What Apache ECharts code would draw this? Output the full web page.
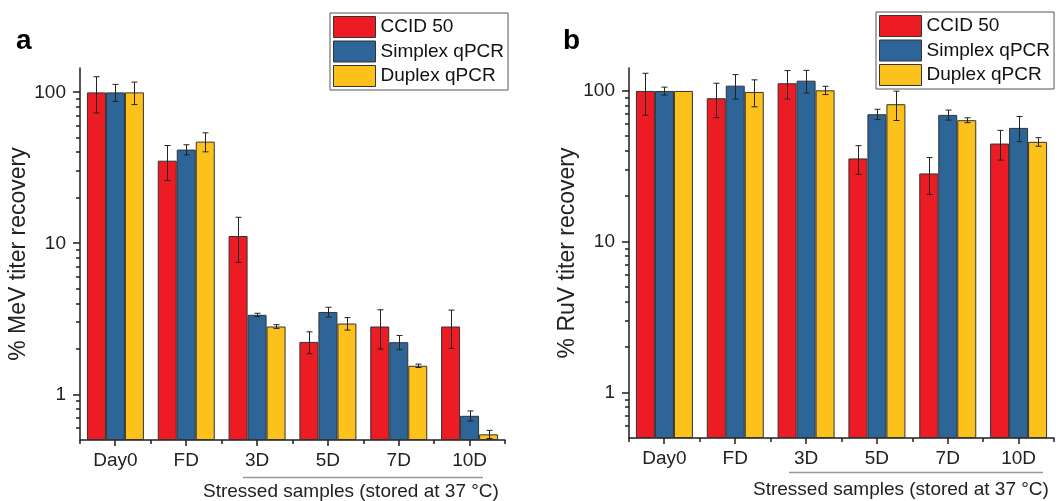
<!DOCTYPE html>
<html>
<head>
<meta charset="utf-8">
<title>MeV / RuV titer recovery</title>
<script src="https://cdn.jsdelivr.net/npm/echarts@6/dist/echarts.min.js"></script>
<style>
  html, body { margin: 0; padding: 0; background: #fff; }
  #main { width: 1059px; height: 501px; }
</style>
</head>
<body>
<div id="main"></div>
<script>
// categories on the x axis
var categories = ['Day0', 'FD', '3D', '5D', '7D', '10D'];
var seriesNames = ['CCID 50', 'Simplex qPCR', 'Duplex qPCR'];

// panel a - MeV (mean and SD, % recovery)
var mevCcid = [100, 35.3, 11.2, 2.23, 2.82, 2.82];
var mevCcidSd = [27, 9.2, 3.7, 0.37, 0.82, 0.8];
var mevSimplex = [100, 41.8, 3.37, 3.52, 2.22, 0.723];
var mevSimplexSd = [13, 3.2, 0.08, 0.26, 0.24, 0.055];
var mevDuplex = [100, 47.2, 2.82, 2.95, 1.55, 0.545];
var mevDuplexSd = [17, 6.8, 0.08, 0.28, 0.04, 0.034];

// panel b - RuV
var ruvCcid = [100, 89.5, 112.5, 35.7, 28.4, 44.8];
var ruvCcidSd = [31, 23, 24, 7.7, 7.8, 10];
var ruvSimplex = [100, 108.4, 117, 70.1, 69.4, 56.9];
var ruvSimplexSd = [6, 20, 20, 5.5, 5.3, 10.8];
var ruvDuplex = [100, 98.5, 101, 81.7, 64, 46];
var ruvDuplexSd = [0, 20, 6.4, 18, 2.4, 3];

// log axis ticks
var majorTicks = [1, 10, 100];
var minorTicks = [0.6, 0.7, 0.8, 0.9, 2, 3, 4, 5, 6, 7, 8, 9, 20, 30, 40, 50, 60, 70, 80, 90];

var colors = ['#ED1C24', '#2E6598', '#FCC11A'];
var FONT = 'Liberation Sans';
var AXIS_COLOR = '#1e1e1e';
var BAR_W = 19;

var myChart = echarts.init(document.getElementById('main'));

// 误差线 (error bars) as custom series
function errorSeries(name, means, sds, k, xIdx, yIdx) {
    var data = [];
    for (var i = 0; i < means.length; i++) {
        data.push([i, means[i] - sds[i], means[i] + sds[i], sds[i]]);
    }
    return {
        type: 'custom',
        name: name,
        xAxisIndex: xIdx,
        yAxisIndex: yIdx,
        z: 5,
        silent: true,
        data: data,
        renderItem: function (params, api) {
            if (api.value(3) <= 0) { return; }
            var top = api.coord([api.value(0), api.value(2)]);
            var bot = api.coord([api.value(0), api.value(1)]);
            var cx = Math.round(top[0] + (k - 1) * BAR_W) + 0.5;
            var cap = 3;
            var st = { stroke: '#222', lineWidth: 1 };
            return {
                type: 'group',
                children: [
                    { type: 'line', shape: { x1: cx, y1: top[1], x2: cx, y2: bot[1] }, style: st },
                    { type: 'line', shape: { x1: cx - cap, y1: top[1], x2: cx + cap, y2: top[1] }, style: st },
                    { type: 'line', shape: { x1: cx - cap, y1: bot[1], x2: cx + cap, y2: bot[1] }, style: st }
                ]
            };
        }
    };
}

function barSeries(name, values, k, xIdx, yIdx) {
    return {
        type: 'bar',
        name: name,
        xAxisIndex: xIdx,
        yAxisIndex: yIdx,
        data: values,
        barWidth: BAR_W,
        barGap: '0%',
        itemStyle: { color: colors[k], borderColor: '#333', borderWidth: 1 }
    };
}

function xAxes(gridIndex) {
    return [{
        type: 'category',
        gridIndex: gridIndex,
        position: 'bottom',
        data: categories,
        axisLine: { show: true, lineStyle: { color: AXIS_COLOR, width: 1.5 } },
        axisTick: { show: false },
        axisLabel: { show: true, color: '#222', fontSize: 19, fontFamily: FONT, margin: 11, interval: 0 },
        splitLine: { show: false }
    }, {
        type: 'category',
        gridIndex: gridIndex,
        position: 'bottom',
        data: categories,
        axisLine: { show: false },
        axisTick: { show: true, length: 4, lineStyle: { color: AXIS_COLOR, width: 1.5 } },
        axisLabel: { show: false },
        splitLine: { show: false }
    }];
}

function yAxis(gridIndex, maxVal, title) {
    return {
        type: 'log',
        gridIndex: gridIndex,
        position: 'left',
        min: 0.5,
        max: maxVal,
        startValue: 0.5,
        name: title,
        nameLocation: 'middle',
        nameGap: 44,
        nameTextStyle: { color: '#222', fontSize: 23, fontFamily: FONT },
        axisLine: { show: true, lineStyle: { color: AXIS_COLOR, width: 1.5 } },
        axisTick: { show: false },
        axisLabel: { color: '#222', fontSize: 19, fontFamily: FONT, margin: 14, customValues: majorTicks },
        splitLine: { show: false }
    };
}

function legendAt(left, top) {
    return {
        orient: 'vertical',
        left: left,
        top: top,
        data: seriesNames,
        itemWidth: 42,
        itemHeight: 21,
        itemGap: 2.5,
        padding: [3, 4, 3, 3],
        borderColor: '#555',
        borderWidth: 1,
        selectedMode: false,
        icon: 'rect',
        itemStyle: { borderColor: '#333', borderWidth: 1 },
        textStyle: { color: '#111', fontSize: 19, fontFamily: FONT }
    };
}

var option = {
    backgroundColor: '#fff',
    animation: false,
    color: colors,
    grid: [
        { left: 80, top: 68, width: 425, height: 372, outerBoundsMode: 'none' },
        { left: 629, top: 68, width: 425, height: 370, outerBoundsMode: 'none' }
    ],
    legend: [legendAt(330, 13), legendAt(876, 12)],
    xAxis: xAxes(0).concat(xAxes(1)),
    yAxis: [yAxis(0, 145, '% MeV titer recovery'), yAxis(1, 142, '% RuV titer recovery')],
    series: [
        barSeries(seriesNames[0], mevCcid, 0, 0, 0),
        barSeries(seriesNames[1], mevSimplex, 1, 0, 0),
        barSeries(seriesNames[2], mevDuplex, 2, 0, 0),
        errorSeries('errA0', mevCcid, mevCcidSd, 0, 0, 0),
        errorSeries('errA1', mevSimplex, mevSimplexSd, 1, 0, 0),
        errorSeries('errA2', mevDuplex, mevDuplexSd, 2, 0, 0),
        barSeries(seriesNames[0], ruvCcid, 0, 2, 1),
        barSeries(seriesNames[1], ruvSimplex, 1, 2, 1),
        barSeries(seriesNames[2], ruvDuplex, 2, 2, 1),
        errorSeries('errB0', ruvCcid, ruvCcidSd, 0, 2, 1),
        errorSeries('errB1', ruvSimplex, ruvSimplexSd, 1, 2, 1),
        errorSeries('errB2', ruvDuplex, ruvDuplexSd, 2, 2, 1)
    ]
};

myChart.setOption(option);

// panel letters, bracket lines and the tick marks (placed through the grids' scales)
var graphics = [
    { type: 'text', left: 16, top: 27, style: { text: 'a', fontSize: 28, fontWeight: 'bold', fontFamily: FONT, fill: '#000' } },
    { type: 'text', left: 563, top: 27, style: { text: 'b', fontSize: 28, fontWeight: 'bold', fontFamily: FONT, fill: '#000' } },
    { type: 'line', shape: { x1: 243, y1: 477.5, x2: 483, y2: 477.5 }, style: { stroke: '#999', lineWidth: 1.5 } },
    { type: 'line', shape: { x1: 789, y1: 472.5, x2: 1043, y2: 472.5 }, style: { stroke: '#999', lineWidth: 1.5 } },
    { type: 'text', x: 203, y: 492, style: { text: 'Stressed samples (stored at 37 \u00B0C)', fontSize: 19, fontFamily: FONT, fill: '#222', verticalAlign: 'middle' } },
    { type: 'text', x: 753, y: 490, style: { text: 'Stressed samples (stored at 37 \u00B0C)', fontSize: 19, fontFamily: FONT, fill: '#222', verticalAlign: 'middle' } }
];
var problems = [];

function addTicks(gridIdx) {
    // axis corner: first category boundary at the bottom value of the axis
    var base = myChart.convertToPixel({ gridIndex: gridIdx }, [0, 0.5]);
    var bandLeft = myChart.convertToPixel({ gridIndex: gridIdx }, [0, 1]);
    var bandNext = myChart.convertToPixel({ gridIndex: gridIdx }, [1, 1]);
    if (!base || !bandLeft || !bandNext) { problems.push('grid' + gridIdx + ' null'); return; }
    var axisX = Math.round(bandLeft[0] - (bandNext[0] - bandLeft[0]) / 2);
    var axisY = Math.round(base[1]);
    var st = { stroke: AXIS_COLOR, lineWidth: 1.5 };
    function yTick(v, len) {
        var p = myChart.convertToPixel({ gridIndex: gridIdx }, [0, v]);
        if (!p || !isFinite(p[1])) { problems.push('y' + v); return; }
        var y = Math.round(p[1]);
        graphics.push({ type: 'line', shape: { x1: axisX - len, y1: y, x2: axisX, y2: y }, style: st });
    }
    majorTicks.forEach(function (v) { yTick(v, 7); });
    minorTicks.forEach(function (v) { yTick(v, 4); });
    categories.forEach(function (c, i) {
        var p = myChart.convertToPixel({ gridIndex: gridIdx }, [i, 1]);
        if (!p || !isFinite(p[0])) { problems.push('x' + i); return; }
        var x = Math.round(p[0]);
        graphics.push({ type: 'line', shape: { x1: x, y1: axisY, x2: x, y2: axisY + 6 }, style: st });
    });
}
try {
    addTicks(0);
    addTicks(1);
} catch (e) {
    problems.push(e.message);
}
if (problems.length) {
    graphics.push({ type: 'text', x: 560, y: 150, style: { text: problems.join(' '), fontSize: 11, fill: '#c00' } });
}

myChart.setOption({ graphic: graphics });
</script>
</body>
</html>
